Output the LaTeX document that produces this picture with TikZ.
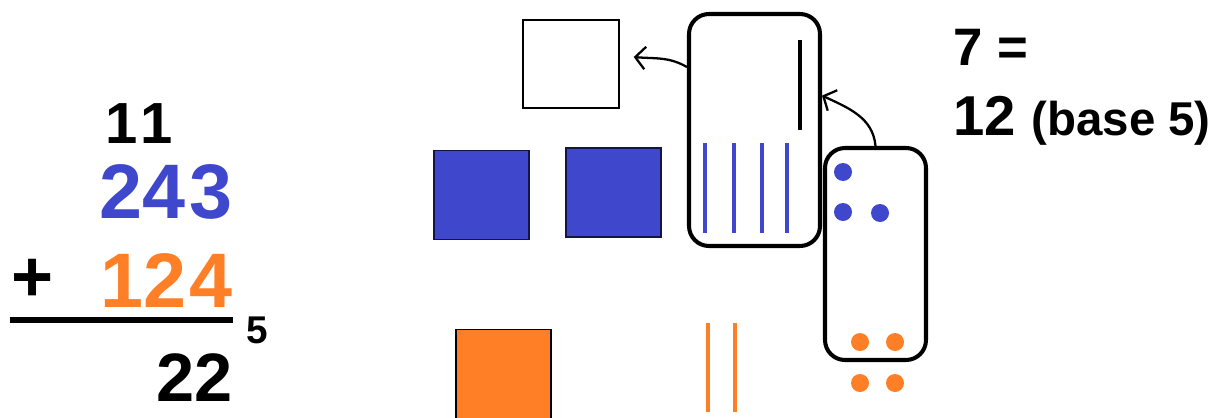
\documentclass[tikz,border=0pt]{standalone}
\usepackage{fontspec}
\setmainfont{Liberation Sans}
\usetikzlibrary{arrows.meta}
\definecolor{paintblue}{RGB}{63,72,204}
\definecolor{paintorange}{RGB}{255,127,39}
\definecolor{navy}{RGB}{20,20,70}

\begin{document}
\begin{tikzpicture}[
  >={Straight Barb[length=2mm, width=4.5mm]},
  num/.style={anchor=base east, inner sep=0pt, font=\bfseries\fontsize{#1}{#1}\selectfont},
  flat/.style={rectangle, draw=navy, line width=1pt, minimum width=1.90cm, minimum height=1.78cm},
  tray/.style={rectangle, draw=black, line width=2.3pt, rounded corners=0.4cm},
  rod/.style={line width=2.2pt},
  bead/.style={circle, inner sep=0pt, minimum size=0.36cm},
  trade/.style={->, line width=1.3pt},
]
\useasboundingbox (0,0) rectangle (24.3,-8.34);

% ---- the sum, base 5 ----
\node[num=33] (carry) at (3.46,-2.86) {1\kern0.05em1};
\node[num=44, text=paintblue] (top) at (4.66,-4.36) {24\kern0.05em3};
\node[num=41, anchor=center] (plus) at (0.66,-5.60) {+};
\node[num=44, text=paintorange] (bottom) at (4.66,-6.14) {12\kern0.04em4};
\draw[line width=3.4pt] (0.2,-6.40) -- (4.66,-6.40);
\node[num=22] (base) at (5.36,-6.86) {5};
\node[num=39] (sum) at (4.66,-8.02) {22};

% ---- flats (25s) ----
\node[flat, draw=black, line width=0.8pt, minimum width=1.92cm, minimum height=1.76cm] (newflat) at (11.42,-1.28) {};
\node[flat, fill=paintblue] (flatA) at (9.63,-3.90) {};
\node[flat, fill=paintblue] (flatB) at (12.27,-3.85) {};
\node[flat, draw=black, fill=paintorange] (flatC) at (10.07,-7.48) {};

% ---- rods (5s) ----
\node[tray, minimum width=2.62cm, minimum height=4.64cm] (fives) at (15.09,-2.60) {};
\draw[rod] (16.0,-0.80) -- (16.0,-2.60);
\foreach \x in {14.10,14.68,15.24,15.74}
  \draw[rod, paintblue] (\x,-2.86) -- (\x,-4.66);
\foreach \x in {14.16,14.70}
  \draw[rod, paintorange] (\x,-6.46) -- (\x,-8.24);

% ---- units ----
\node[tray, minimum width=2.02cm, minimum height=4.24cm] (units) at (17.51,-5.08) {};
\node[bead, fill=paintblue] (b1) at (16.86,-3.44) {};
\node[bead, fill=paintblue] (b2) at (16.86,-4.24) {};
\node[bead, fill=paintblue] (b3) at (17.60,-4.26) {};
\node[bead, fill=paintorange] (o1) at (17.20,-6.84) {};
\node[bead, fill=paintorange] (o2) at (17.90,-6.84) {};
\node[bead, fill=paintorange] (o3) at (17.20,-7.66) {};
\node[bead, fill=paintorange] (o4) at (17.90,-7.66) {};

% ---- regrouping ----
\draw[trade] (units.north) to[out=95, in=-25] (fives.27);
\draw[trade] (fives.137) to[out=150, in=-5] ([shift={(0.28,0.14)}]newflat.east);

% ---- note ----
\node[num=30, anchor=base west] (seven) at (19.06,-1.30) {7 =};
\node[num=32, anchor=base west] (twelve) at (19.06,-2.70) {12 {\fontsize{27}{27}\selectfont (base 5)}};

\end{tikzpicture}
\end{document}
